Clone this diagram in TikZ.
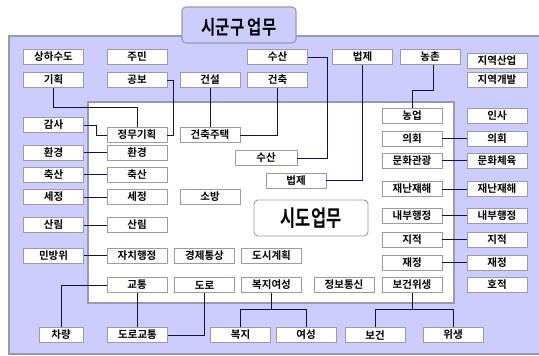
\documentclass[tikz,border=0pt]{standalone}
\usepackage{fontspec}
\setmainfont{Noto Sans CJK KR Bold}
\usepackage{graphicx}
\definecolor{lav}{HTML}{CCCCFF}
\definecolor{ln}{HTML}{10104A}
\definecolor{bd}{HTML}{9A9AAA}
\begin{document}
\begin{tikzpicture}[x=1pt,y=-1pt,
 bx/.style={draw=bd, fill=white, line width=0.9pt, minimum width=60pt, minimum height=15pt, inner sep=0pt, font=\fontsize{10.5}{10.5}\selectfont},
 cn/.style={draw=ln, line width=0.8pt},
 panel/.style={draw=bd, line width=1.1pt}]
\useasboundingbox (0,0) rectangle (539,356);
\fill[lav] (9,36) rectangle (539,354);
\draw[panel] (539,36) -- (9,36) -- (9,354) -- (539,354);
\node[panel, fill=lav, rounded corners=4pt, minimum width=114pt, minimum height=36pt, inner sep=0pt] (tab) at (239,25) {};
\node[inner sep=0pt] (title) at (239,27) {\scalebox{1}[1.25]{\fontsize{15.5}{15.5}\selectfont 시군구 업무}};
\node[panel, fill=white, minimum width=366pt, minimum height=201pt, inner sep=0pt] (inner) at (271,202.5) {};

% top rows
\node[bx] (sanghasudo) at (53.5,57) {상하수도};
\node[bx] (jumin) at (137,57) {주민};
\node[bx] (susan1) at (277.5,57) {수산};
\node[bx] (beopje1) at (362.5,57) {법제};
\node[bx] (nongchon) at (430,57) {농촌};
\node[bx] (jysaneop) at (497,61) {지역산업};
\node[bx] (jygaebal) at (497,79.5) {지역개발};
\node[bx] (gihoek) at (53.5,80) {기획};
\node[bx] (gongbo) at (137,80) {공보};
\node[bx] (geonseol) at (210,80) {건설};
\node[bx] (geonchuk) at (277.5,80) {건축};

% middle
\node[bx] (nongeop) at (412,116) {농업};
\node[bx] (insa) at (497,116) {인사};
\node[bx] (gamsa) at (53.5,125) {감사};
\node[bx] (jeongmu) at (137,135) {정무기획};
\node[bx] (geonjt) at (210,135) {건축주택};
\node[bx] (uihoe1) at (412,138.5) {의회};
\node[bx] (uihoe2) at (497,138.5) {의회};
\node[bx] (hwan1) at (53.5,152.5) {환경};
\node[bx] (hwan2) at (137,152.5) {환경};
\node[bx, minimum width=62pt] (susan2) at (266,158) {수산};
\node[bx] (munhwa1) at (412,160.5) {문화관광};
\node[bx] (munhwa2) at (497,160.5) {문화체육};
\node[bx] (chuk1) at (53.5,174.5) {축산};
\node[bx] (chuk2) at (137,174.5) {축산};
\node[bx] (beopje2) at (296,180.5) {법제};
\node[bx] (jaenan1) at (412,189) {재난재해};
\node[bx] (jaenan2) at (497,189) {재난재해};
\node[bx] (sejeong1) at (53.5,197) {세정};
\node[bx] (sejeong2) at (137,197) {세정};
\node[bx] (sobang) at (210,197) {소방};
\node[bx, rounded corners=4pt, minimum width=114pt, minimum height=36pt, font=\fontsize{16.5}{16.5}\selectfont] (sido) at (311,218) {\scalebox{1}[1.35]{시도업무}};
\node[bx] (naebu1) at (412,215.5) {내부행정};
\node[bx] (naebu2) at (497,215.5) {내부행정};
\node[bx] (sallim1) at (53.5,225) {산림};
\node[bx] (sallim2) at (137,225) {산림};
\node[bx] (jijeok1) at (412,239.5) {지적};
\node[bx] (jijeok2) at (497,239.5) {지적};
\node[bx] (minbang) at (53.5,255.5) {민방위};
\node[bx] (jachi) at (137,255.5) {자치행정};
\node[bx] (gyeongje) at (204.5,255.5) {경제통상};
\node[bx] (dosi) at (271.5,255.5) {도시계획};
\node[bx] (jaejeong1) at (412,262.5) {재정};
\node[bx] (jaejeong2) at (497,262.5) {재정};
\node[bx] (gyotong) at (137,285) {교통};
\node[bx] (doro) at (204.5,285) {도로};
\node[bx] (bokjiyeo) at (271.5,285) {복지여성};
\node[bx] (jeongbo) at (344,285) {정보통신};
\node[bx] (bogeonwi) at (412,285) {보건위생};
\node[bx] (hojeok) at (497,285) {호적};

% bottom row
\node[bx, minimum width=44pt] (charyang) at (61,335) {차량};
\node[bx] (dorogyo) at (137.5,335) {도로교통};
\node[bx] (bokji) at (240.5,335) {복지};
\node[bx] (yeoseong) at (306,335) {여성};
\node[bx] (bogeon) at (375,335) {보건};
\node[bx] (wisaeng) at (453,335) {위생};

% helper coordinates
\coordinate (h107) at (0,107);
\coordinate (h90) at (0,90);
\coordinate (h309) at (0,309);

% connectors
\draw[cn] (gihoek.south) -- (gihoek.south |- h107) -| (jeongmu.north);
\draw[cn] (gongbo.east) -| ([xshift=6pt]jeongmu.east) -- (jeongmu.east);
\draw[cn] (geonseol.south) -- (geonseol.south |- geonjt.north);
\draw[cn] (geonchuk.south) |- (geonjt.east);
\draw[cn] (susan1.east) -| ([xshift=30pt]susan2.east) -- (susan2.east);
\draw[cn] (beopje1.south) |- (beopje2.east);
\draw[cn] ([xshift=3pt]nongchon.south) -- ([xshift=3pt]nongchon.south |- h90) -| (nongeop.north);
\draw[cn] (uihoe1.east) -- (uihoe2.west);
\draw[cn] (munhwa1.east) -- (munhwa2.west);
\draw[cn] (jaenan1.east) -- (jaenan2.west);
\draw[cn] (naebu1.east) -- (naebu2.west);
\draw[cn] (jijeok1.east) -- (jijeok2.west);
\draw[cn] (jaejeong1.east) -- (jaejeong2.west);
\draw[cn] (gamsa.east) -- ++(12,0) |- (jeongmu.west);
\draw[cn] (hwan1.east) -- (hwan2.west);
\draw[cn] (chuk1.east) -- (chuk2.west);
\draw[cn] (sejeong1.east) -- (sejeong2.west);
\draw[cn] (sallim1.east) -- (sallim2.west);
\draw[cn] (minbang.east) -- (jachi.west);
\draw[cn] (gyotong.west) -| (charyang.north);
\draw[cn] (gyotong.south) -- (gyotong.south |- dorogyo.north);
\draw[cn] (doro.south) |- (dorogyo.east);
\draw[cn] (bokjiyeo.south) -- (bokjiyeo.south |- h309);
\draw[cn] (bokji.north) -- (bokji.north |- h309) -- (yeoseong.north |- h309) -- (yeoseong.north);
\draw[cn] (bogeonwi.south) -- (bogeonwi.south |- h309);
\draw[cn] (bogeon.north) -- (bogeon.north |- h309) -- (wisaeng.north |- h309) -- (wisaeng.north);
\end{tikzpicture}
\end{document}
